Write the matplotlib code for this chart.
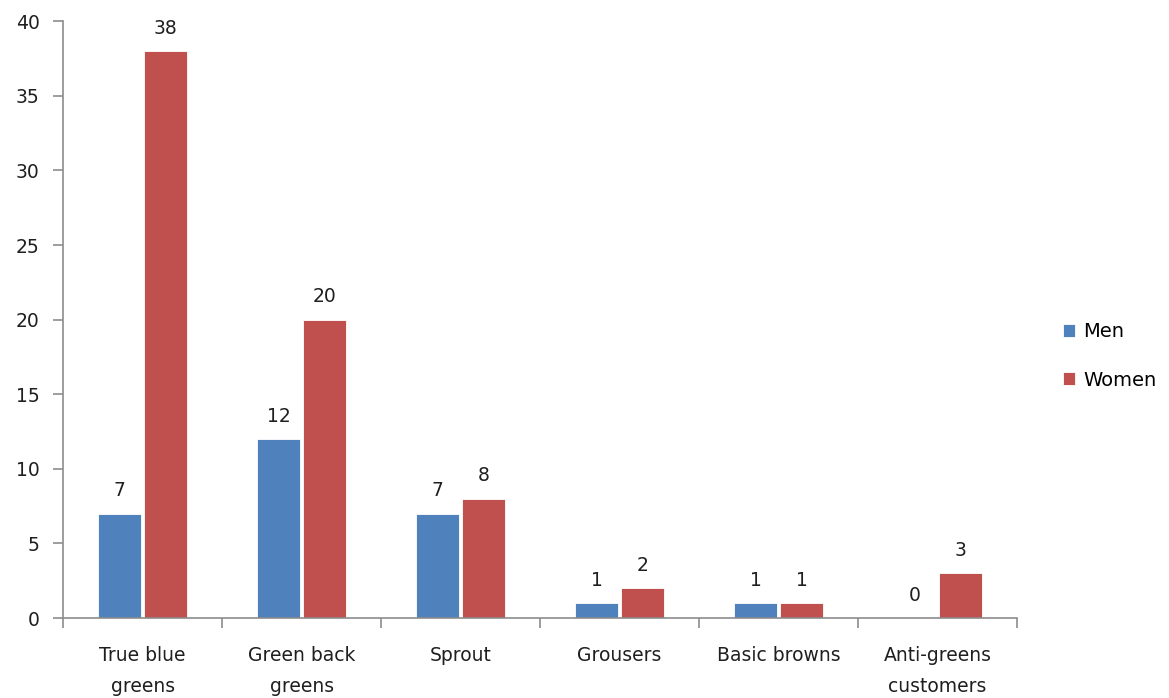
import matplotlib.pyplot as plt
import numpy as np

categories = ["True blue\ngreens", "Green back\ngreens", "Sprout", "Grousers",
              "Basic browns", "Anti-greens\ncustomers"]
men = [7, 12, 7, 1, 1, 0]
women = [38, 20, 8, 2, 1, 3]

blue = "#4F81BD"
red = "#C0504D"
grey = "#8C8C8C"
txt = "#1F1F1F"

plt.rcParams['font.family'] = ['DejaVu Sans']

fig = plt.figure(figsize=(11.69, 6.98), dpi=100)
ax = fig.add_axes([0.054, 0.1146, 0.816, 0.855])

x = np.arange(len(categories))
w = 0.27
b1 = ax.bar(x - w / 2 - 0.01, men, w, color=blue, edgecolor="white", linewidth=0.6, label="Men")
b2 = ax.bar(x + w / 2 + 0.01, women, w, color=red, edgecolor="white", linewidth=0.6, label="Women")

for bars in (b1, b2):
    for rect in bars:
        h = rect.get_height()
        ax.text(rect.get_x() + rect.get_width() / 2, h + 0.9, "%d" % h,
                ha="center", va="bottom", fontsize=13.5, color=txt)

ax.set_xlim(-0.5, len(categories) - 0.5)
ax.set_ylim(0, 40)
ax.set_yticks(range(0, 41, 5))
ax.set_xticks(x)
ax.set_xticklabels(categories, fontsize=13.5, color=txt, linespacing=1.8, va="top")
ax.set_xticks(np.arange(len(categories) + 1) - 0.5, minor=True)
ax.tick_params(axis="x", which="major", length=0, pad=20)
ax.tick_params(axis="x", which="minor", length=7, color=grey, width=1.2, direction="out")
ax.tick_params(axis="y", labelsize=13.5, labelcolor=txt, length=7, color=grey, width=1.2, pad=10)

for s in ("top", "right"):
    ax.spines[s].set_visible(False)
for s in ("left", "bottom"):
    ax.spines[s].set_color(grey)
    ax.spines[s].set_linewidth(1.2)

fig.legend(handles=[b1, b2], labels=["Men", "Women"], loc="center left",
           bbox_to_anchor=(0.894, 0.49), frameon=False, fontsize=14,
           handlelength=0.65, handleheight=0.65, handletextpad=0.4, labelspacing=1.5)

fig.savefig("out.png", dpi=100)
